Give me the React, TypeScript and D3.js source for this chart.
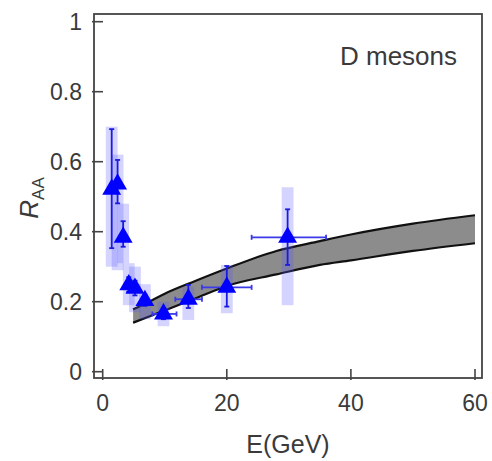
import React from "react";
import * as d3 from "d3";

// ---- data ----
const energy = [1.45, 2.4, 3.3, 4.2, 5.2, 6.8, 9.8, 13.8, 20, 29.8];
const raa = [0.521, 0.536, 0.384, 0.248, 0.238, 0.203, 0.165, 0.207, 0.241, 0.384];
const statLow = [0.353, 0.481, 0.357, 0.228, 0.218, 0.188, 0.15, 0.182, 0.186, 0.305];
const statHigh = [0.693, 0.605, 0.43, 0.27, 0.26, 0.22, 0.182, 0.248, 0.302, 0.464];
const eLow = [1.45, 2.4, 3.3, 4.2, 5.2, 6.8, 8, 11.7, 16, 24];
const eHigh = [1.45, 2.4, 3.3, 4.2, 5.2, 6.8, 11.9, 16, 24, 36];
const sysLow = [0.3, 0.29, 0.31, 0.19, 0.17, 0.15, 0.13, 0.148, 0.167, 0.19];
const sysHigh = [0.7, 0.62, 0.48, 0.31, 0.3, 0.25, 0.2, 0.243, 0.305, 0.527];
const sysHalfWidth = 0.95;

const bandE = [4.9, 7.5, 10, 15, 20, 28, 35, 40, 50, 60];
const bandUpper = [0.178, 0.2, 0.223, 0.26, 0.295, 0.345, 0.373, 0.392, 0.423, 0.447];
const bandLower = [0.14, 0.158, 0.175, 0.21, 0.245, 0.278, 0.305, 0.318, 0.345, 0.367];

const xTicks = [0, 20, 40, 60];
const yTicks = [0, 0.2, 0.4, 0.6, 0.8, 1];
const yTickLabels = ["0", "0.2", "0.4", "0.6", "0.8", "1"];

// ---- layout ----
const W = 492;
const H = 461;
const frame = { left: 94, right: 482, top: 14, bottom: 378 };
const font = "'Liberation Sans', Arial, sans-serif";
const textColor = "#3a3a3a";
const axisColor = "#444";

export default function App() {
  const x = d3.scaleLinear().domain([0, 60]).range([102.7, 475]);
  const y = d3.scaleLinear().domain([0, 1]).range([371.7, 21.7]);

  const bandPts = bandE.map((e, i) => ({ e, lo: bandLower[i], hi: bandUpper[i] }));
  const area = d3
    .area<any>()
    .x((d) => x(d.e))
    .y0((d) => y(d.lo))
    .y1((d) => y(d.hi))
    .curve(d3.curveMonotoneX);
  const upperLine = d3.line<any>().x((d) => x(d.e)).y((d) => y(d.hi)).curve(d3.curveMonotoneX);
  const lowerLine = d3.line<any>().x((d) => x(d.e)).y((d) => y(d.lo)).curve(d3.curveMonotoneX);

  const tri = d3.symbol().type(d3.symbolTriangle).size(155)();
  const cap = 2.5;
  const barColor = "#1a1ae0";

  return (
    <svg
      width={W}
      height={H}
      style={{ position: "absolute", left: 0, top: 0, background: "#fff" }}
      fontFamily={font}
    >
      <rect x={0} y={0} width={W} height={H} fill="#fff" />
      {/* band */}
      <path d={area(bandPts) || ""} fill="#8c8c8c" />
      <path d={upperLine(bandPts) || ""} fill="none" stroke="#111" strokeWidth={2.2} />
      <path d={lowerLine(bandPts) || ""} fill="none" stroke="#111" strokeWidth={2.2} />

      {/* systematic boxes */}
      {energy.map((e, i) => (
        <rect
          key={"s" + i}
          x={x(e - sysHalfWidth)}
          y={y(sysHigh[i])}
          width={x(e + sysHalfWidth) - x(e - sysHalfWidth)}
          height={y(sysLow[i]) - y(sysHigh[i])}
          fill="#5a5aff"
          fillOpacity={0.26}
        />
      ))}

      {/* error bars */}
      {energy.map((e, i) => (
        <g key={"e" + i} stroke={barColor} strokeWidth={1.8} fill="none">
          <line x1={x(e)} x2={x(e)} y1={y(statLow[i])} y2={y(statHigh[i])} />
          <line x1={x(e) - cap} x2={x(e) + cap} y1={y(statLow[i])} y2={y(statLow[i])} />
          <line x1={x(e) - cap} x2={x(e) + cap} y1={y(statHigh[i])} y2={y(statHigh[i])} />
          {eHigh[i] > eLow[i] && (
            <>
              <line x1={x(eLow[i])} x2={x(eHigh[i])} y1={y(raa[i])} y2={y(raa[i])} stroke="#3a3ae8" />
              <line x1={x(eLow[i])} x2={x(eLow[i])} y1={y(raa[i]) - cap} y2={y(raa[i]) + cap} stroke="#3a3ae8" />
              <line x1={x(eHigh[i])} x2={x(eHigh[i])} y1={y(raa[i]) - cap} y2={y(raa[i]) + cap} stroke="#3a3ae8" />
            </>
          )}
        </g>
      ))}

      {/* markers */}
      {energy.map((e, i) => (
        <path key={"m" + i} d={tri || ""} transform={`translate(${x(e)},${y(raa[i])})`} fill="#0000ff" />
      ))}

      {/* frame */}
      <rect
        x={frame.left}
        y={frame.top}
        width={frame.right - frame.left}
        height={frame.bottom - frame.top}
        fill="none"
        stroke={axisColor}
        strokeWidth={1.8}
      />

      {/* y ticks */}
      {yTicks.map((t, i) => (
        <g key={"yt" + i}>
          <line x1={frame.left - 2} x2={frame.left + 9} y1={y(t)} y2={y(t)} stroke={axisColor} strokeWidth={1.6} />
          <text x={82} y={y(t)} dy="0.36em" textAnchor="end" fontSize={23} fill={textColor}>
            {yTickLabels[i]}
          </text>
        </g>
      ))}

      {/* x ticks */}
      {xTicks.map((t, i) => (
        <g key={"xt" + i}>
          <line x1={x(t)} x2={x(t)} y1={frame.bottom + 2} y2={frame.bottom - 9} stroke={axisColor} strokeWidth={1.6} />
          <text x={x(t)} y={411} textAnchor="middle" fontSize={23} fill={textColor}>
            {t}
          </text>
        </g>
      ))}

      {/* axis titles */}
      <text x={288} y={453} textAnchor="middle" fontSize={25} fill={textColor}>
        E(GeV)
      </text>
      <text transform="translate(38,198) rotate(-90)" textAnchor="middle" fill={textColor}>
        <tspan fontSize={26} fontStyle="italic">R</tspan>
        <tspan fontSize={17} dy={6}>AA</tspan>
      </text>

      <text x={340} y={65} fontSize={26} fill={textColor}>
        D mesons
      </text>
    </svg>
  );
}
